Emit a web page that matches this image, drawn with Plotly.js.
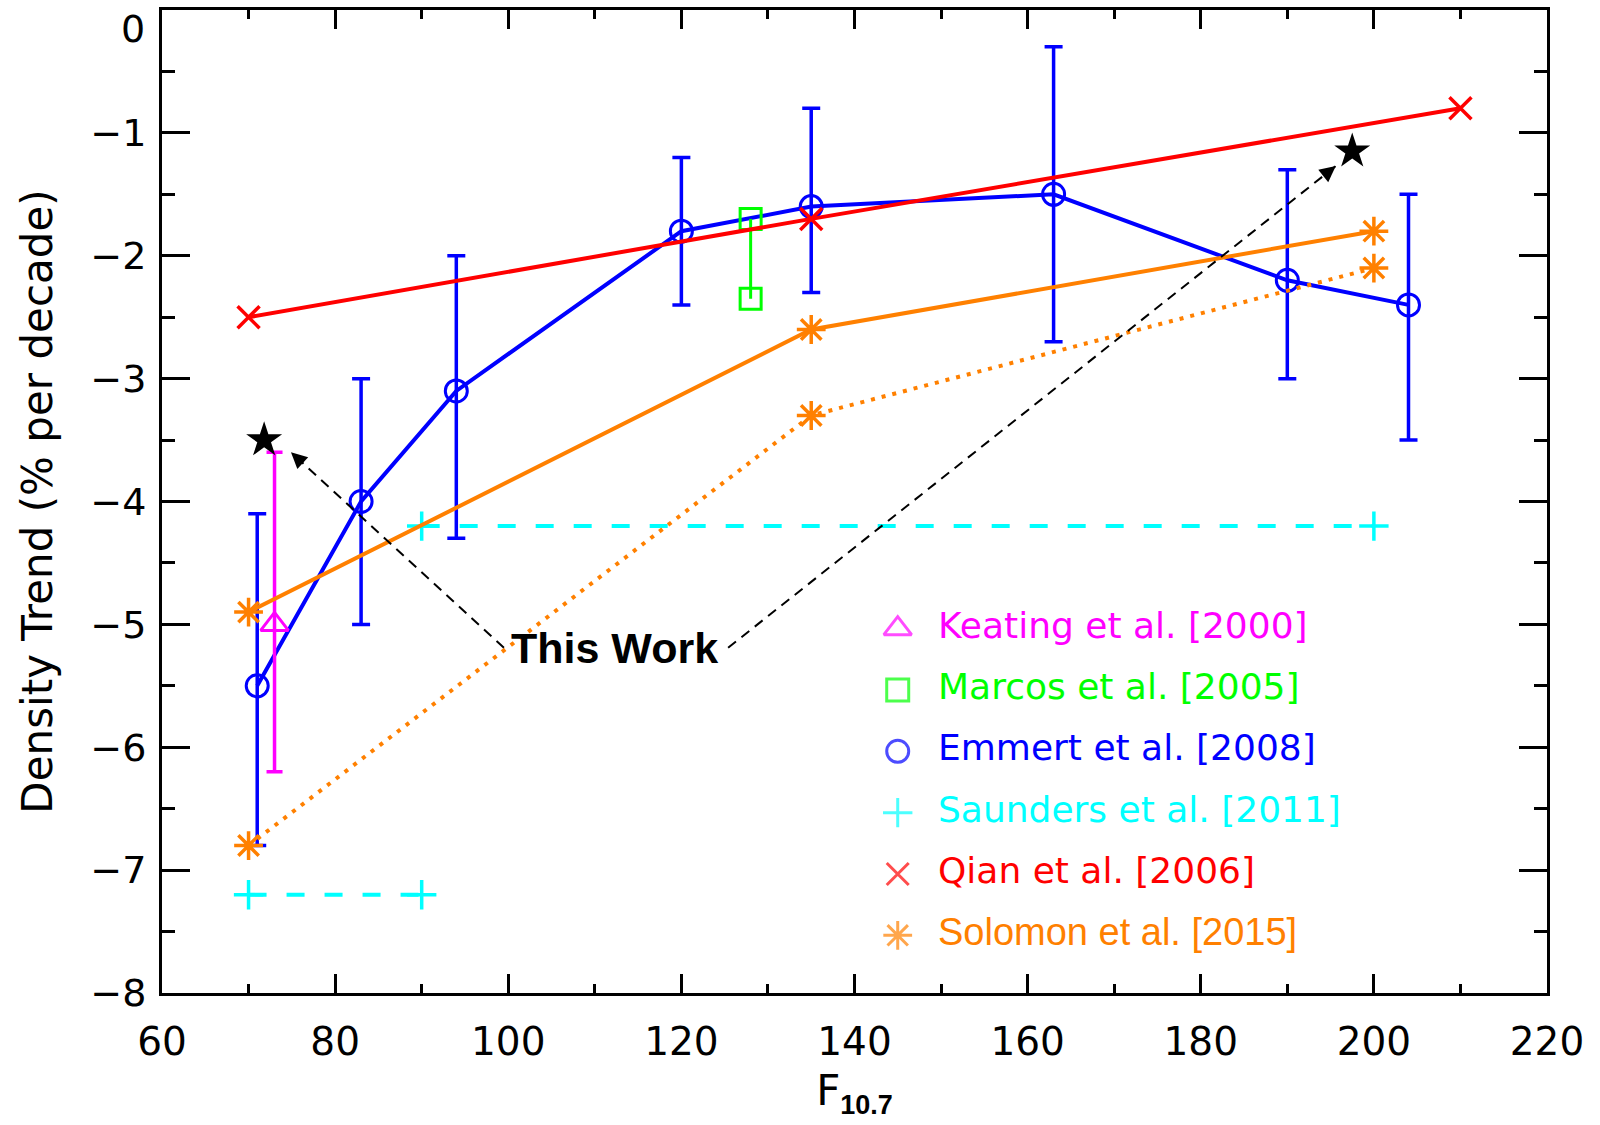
<!DOCTYPE html>
<html><head><meta charset="utf-8">
<script src="https://cdn.plot.ly/plotly-3.0.1.min.js"></script>
<style>html,body{margin:0;padding:0;background:#fff}</style>
</head><body>
<div id="chart" style="width:1600px;height:1125px"></div>
<script>
// ---- data ----
const emmertX = [71, 83, 94, 120, 135, 163, 190, 204];
const emmertY = [-5.5, -4.0, -3.1, -1.8, -1.6, -1.5, -2.2, -2.4];
const emmertErrPlus = [1.4, 1.0, 1.1, 0.6, 0.8, 1.2, 0.9, 0.9];
const emmertErrMinus = [1.3, 1.0, 1.2, 0.6, 0.7, 1.2, 0.8, 1.1];

const keatingX = [73];
const keatingY = [-5.0];
const keatingErrPlus = [1.4];
const keatingErrMinus = [1.2];

const marcosX = [128, 128];
const marcosY = [-1.7, -2.35];

const qianX = [70, 135, 210];
const qianY = [-2.5, -1.7, -0.8];

const solomonX = [70, 135, 200];
const solomonYSolid = [-4.9, -2.6, -1.8];
const solomonYDotted = [-6.8, -3.3, -2.1];

const saundersX = [70, 90, null, 90, 200];
const saundersY = [-7.2, -7.2, null, -4.2, -4.2];

const thisWorkX = [71.8, 197.5];
const thisWorkY = [-3.5, -1.15];
const thisWorkLabel = 'This Work';
const thisWorkLabelX = 112.3;
const thisWorkLabelY = -5.19;
const arrow1X = [99.5, 74.9];
const arrow1Y = [-5.19, -3.60];
const arrow2X = [125.4, 195.6];
const arrow2Y = [-5.19, -1.27];

const legendLabels = ['Keating et al. [2000]', 'Marcos et al. [2005]', 'Emmert et al. [2008]',
                      'Saunders et al. [2011]', 'Qian et al. [2006]', 'Solomon et al. [2015]'];
const legendSymbols = ['triangle-up-open', 'square-open', 'circle-open', 'cross-thin-open', 'x-thin-open', 'asterisk-open'];
const legendColors = ['#FF00FF', '#00FF00', '#0000FF', '#00FFFF', '#FF0000', '#FF8000'];
const legendFonts = ['DejaVu Sans', 'DejaVu Sans', 'DejaVu Sans', 'DejaVu Sans', 'DejaVu Sans', 'Liberation Sans'];
const legendFontSizes = [36, 36, 36, 36, 36, 38];
const legendMarkerSizes = [24, 22, 22, 21, 22, 24];

const BLUE = '#0000FF', RED = '#FF0000', GREEN = '#00FF00', MAGENTA = '#FF00FF', CYAN = '#00FFFF', ORANGE = '#FF8000';

// plot-area geometry (pixels)
const M = {l: 162, r: 53, t: 10, b: 132};
const PW = 1600 - M.l - M.r, PH = 1125 - M.t - M.b;
const XR = [60, 220], YR = [-8, 0];
const sx = PW / (XR[1] - XR[0]), sy = PH / (YR[1] - YR[0]);

const traces = [
  { // Saunders
    x: saundersX, y: saundersY, mode: 'lines+markers', connectgaps: false,
    line: {color: CYAN, width: 4, dash: '18px,20px'},
    marker: {symbol: 'cross-thin-open', size: 21, color: CYAN, line: {width: 3.5, color: CYAN}},
    showlegend: false, hoverinfo: 'skip'
  },
  { // Emmert
    x: emmertX, y: emmertY, mode: 'lines+markers',
    line: {color: BLUE, width: 4},
    marker: {symbol: 'circle-open', size: 22, color: BLUE, line: {width: 3, color: BLUE}},
    error_y: {type: 'data', symmetric: false, array: emmertErrPlus, arrayminus: emmertErrMinus,
              color: BLUE, thickness: 3.5, width: 9},
    showlegend: false, hoverinfo: 'skip'
  },
  { // Keating
    x: keatingX, y: keatingY, mode: 'markers',
    marker: {symbol: 'triangle-up-open', size: 24, color: MAGENTA, line: {width: 3, color: MAGENTA}},
    error_y: {type: 'data', symmetric: false, array: keatingErrPlus, arrayminus: keatingErrMinus,
              color: MAGENTA, thickness: 3.5, width: 8},
    showlegend: false, hoverinfo: 'skip'
  },
  { // Marcos
    x: marcosX, y: marcosY, mode: 'lines+markers',
    line: {color: GREEN, width: 3},
    marker: {symbol: 'square-open', size: 21, color: GREEN, line: {width: 3, color: GREEN}},
    showlegend: false, hoverinfo: 'skip'
  },
  { // Solomon dotted
    x: solomonX, y: solomonYDotted, mode: 'lines+markers',
    line: {color: ORANGE, width: 4, dash: '4px,7px'},
    marker: {symbol: 'asterisk-open', size: 24, color: ORANGE, line: {width: 3.5, color: ORANGE}},
    showlegend: false, hoverinfo: 'skip'
  },
  { // Solomon solid
    x: solomonX, y: solomonYSolid, mode: 'lines+markers',
    line: {color: ORANGE, width: 4},
    marker: {symbol: 'asterisk-open', size: 24, color: ORANGE, line: {width: 3.5, color: ORANGE}},
    showlegend: false, hoverinfo: 'skip'
  },
  { // Qian
    x: qianX, y: qianY, mode: 'lines+markers',
    line: {color: RED, width: 4},
    marker: {symbol: 'x-thin-open', size: 22, color: RED, line: {width: 3.5, color: RED}},
    showlegend: false, hoverinfo: 'skip'
  },
  { // arrow 1 shaft
    x: arrow1X, y: arrow1Y, mode: 'lines',
    line: {color: 'black', width: 2, dash: '10px,7px'},
    showlegend: false, hoverinfo: 'skip'
  },
  { // arrow 2 shaft
    x: arrow2X, y: arrow2Y, mode: 'lines',
    line: {color: 'black', width: 2, dash: '10px,7px'},
    showlegend: false, hoverinfo: 'skip'
  },
  { // This Work stars
    x: thisWorkX, y: thisWorkY, mode: 'markers',
    marker: {symbol: 'star', size: 27, color: 'black', line: {width: 0}},
    showlegend: false, hoverinfo: 'skip'
  },
  { // legend symbols
    x: legendLabels.map(() => 0), y: legendLabels.map((_, i) => i),
    xaxis: 'x2', yaxis: 'y2', mode: 'markers', cliponaxis: false,
    marker: {symbol: legendSymbols, size: legendMarkerSizes, color: legendColors,
             line: {width: 3, color: legendColors}},
    showlegend: false, hoverinfo: 'skip'
  },
  { // legend labels
    x: legendLabels.map(() => 1), y: legendLabels.map((_, i) => i),
    xaxis: 'x2', yaxis: 'y2', mode: 'text', text: legendLabels, textposition: 'middle right',
    cliponaxis: false,
    textfont: {family: legendFonts, size: legendFontSizes, color: legendColors},
    showlegend: false, hoverinfo: 'skip'
  }
];

// arrow heads pointing along each dashed shaft
function arrowHead(xs, ys) {
  const dxp = (xs[0] - xs[1]) * sx, dyp = -(ys[0] - ys[1]) * sy;
  const len = Math.hypot(dxp, dyp), L = 14;
  return {x: xs[1], y: ys[1], xref: 'x', yref: 'y', text: '', showarrow: true,
          ax: dxp / len * L, ay: dyp / len * L, axref: 'pixel', ayref: 'pixel',
          arrowhead: 2, arrowsize: 1.6, arrowwidth: 2, arrowcolor: 'black', standoff: 0};
}

const tickFont = {family: 'DejaVu Sans', size: 39, color: 'black'};
const yTickFont = {family: 'DejaVu Sans', size: 38, color: 'black'};

const layout = {
  width: 1600, height: 1125,
  margin: M,
  paper_bgcolor: 'white', plot_bgcolor: 'white',
  showlegend: false,
  font: {family: 'DejaVu Sans', color: 'black'},
  xaxis: {
    range: XR, tickmode: 'linear', tick0: 60, dtick: 20,
    ticks: 'inside', ticklen: 19, tickwidth: 3, tickcolor: 'black',
    minor: {dtick: 10, ticks: 'inside', ticklen: 9, tickwidth: 3, tickcolor: 'black'},
    showline: true, linewidth: 3, linecolor: 'black', mirror: 'ticks',
    showgrid: false, zeroline: false, tickfont: tickFont, ticklabelstandoff: 12,
    title: {text: 'F<sub><span style="font-family:Liberation Sans;font-weight:bold;font-size:27px">10.7</span></sub>',
            font: {family: 'DejaVu Sans', size: 42, color: 'black'}, standoff: 13}
  },
  yaxis: {
    range: YR, tickmode: 'linear', tick0: 0, dtick: 1,
    ticks: 'inside', ticklen: 28, tickwidth: 3, tickcolor: 'black',
    minor: {dtick: 0.5, ticks: 'inside', ticklen: 13, tickwidth: 3, tickcolor: 'black'},
    showline: true, linewidth: 3, linecolor: 'black', mirror: 'ticks',
    showgrid: false, zeroline: false, tickfont: yTickFont,
    ticklabelstandoff: 5,
    title: {text: 'Density Trend (% per decade)', font: {family: 'DejaVu Sans', size: 42, color: 'black'}, standoff: 25}
  },
  xaxis2: {domain: [0.5312, 0.5603], range: [0, 1], anchor: 'y2', visible: false, fixedrange: true},
  yaxis2: {domain: [0.0587, 0.3706], range: [5, 0], anchor: 'x2', visible: false, fixedrange: true},
  annotations: [
    {x: thisWorkLabelX, y: thisWorkLabelY, xref: 'x', yref: 'y', text: '<b>' + thisWorkLabel + '</b>',
     showarrow: false, xanchor: 'center', yanchor: 'middle',
     font: {family: 'Liberation Sans', size: 43, color: 'black'}},
    arrowHead(arrow1X, arrow1Y),
    arrowHead(arrow2X, arrow2Y),
    {x: 0, xref: 'paper', y: YR[1], yref: 'y', text: String(YR[1]), showarrow: false,
     xanchor: 'right', yanchor: 'top', xshift: -15, yshift: 5, font: yTickFont}
  ]
};

Plotly.newPlot('chart', traces, layout, {displayModeBar: false, staticPlot: true});
</script>
</body></html>
